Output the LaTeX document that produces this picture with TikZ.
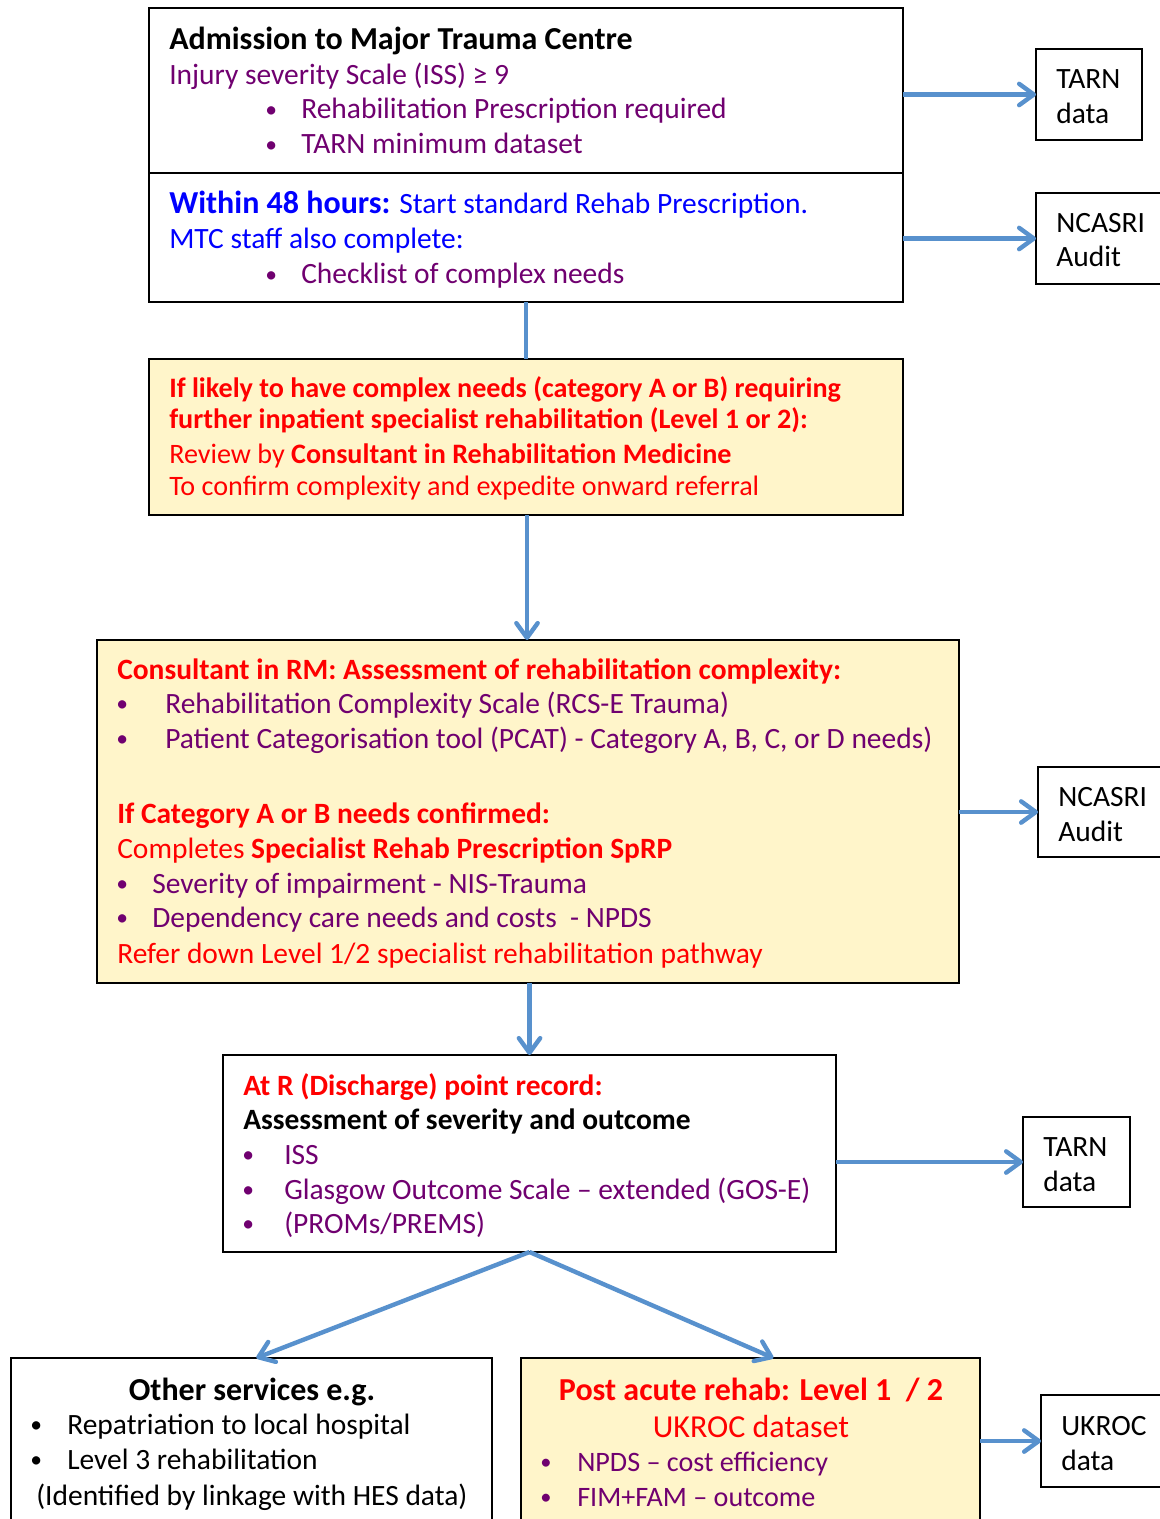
\documentclass[tikz,border=0pt]{standalone}
\usepackage{fontspec}
\setmainfont{Carlito}
\usetikzlibrary{arrows.meta,calc}
\definecolor{ptxt}{RGB}{112,0,112}
\definecolor{abl}{RGB}{88,145,205}
\definecolor{yfill}{RGB}{255,245,202}
\definecolor{rtxt}{RGB}{255,0,0}
\definecolor{btxt}{RGB}{0,0,255}
\newcommand\bul{\raisebox{0.05em}{\scalebox{0.8}{•}}}
\begin{document}
\begin{tikzpicture}[x=0.75pt,y=-0.75pt,
  box/.style={draw=black, line width=1.6pt, anchor=north west, inner sep=0pt, outer sep=0pt},
  yel/.style={box, fill=yfill},
  ln/.style={anchor=base west, inner sep=0pt, font=\fontsize{22.1}{26}\selectfont},
  lns/.style={anchor=base west, inner sep=0pt, font=\fontsize{21.1}{26}\selectfont},
  lnh/.style={anchor=base west, inner sep=0pt, font=\fontsize{24}{28}\selectfont},
  lc/.style={anchor=base, inner sep=0pt, font=\fontsize{24}{28}\selectfont},
  flow/.style={draw=abl, line width=3.3pt, -{Straight Barb[length=11pt,width=16pt,line cap=round,line join=round]}},
  plain/.style={draw=abl, line width=3.3pt},
]
\useasboundingbox (0,0) rectangle (1159,1519);
\fill[white] (0,0) rectangle (1159,1519);

% ---------- boxes ----------
\node[box, minimum width={754*0.75pt}, minimum height={165*0.75pt}] (b1) at (149,8) {};
\node[box, minimum width={754*0.75pt}, minimum height={129*0.75pt}] (b2) at (149,173) {};
\node[yel, minimum width={754*0.75pt}, minimum height={156*0.75pt}] (b3) at (149,359) {};
\node[yel, minimum width={862*0.75pt}, minimum height={343*0.75pt}] (b4) at (97,640) {};
\node[box, minimum width={613*0.75pt}, minimum height={197*0.75pt}] (b5) at (223,1055) {};
\node[box, minimum width={481*0.75pt}, minimum height={175*0.75pt}] (b6) at (11,1358) {};
\node[yel, minimum width={459*0.75pt}, minimum height={175*0.75pt}] (b7) at (521,1358) {};

\node[box, minimum width={106*0.75pt}, minimum height={91*0.75pt}] (t1) at (1036,49) {};
\node[box, minimum width={135*0.75pt}, minimum height={91*0.75pt}] (n1) at (1036,193) {};
\node[box, minimum width={135*0.75pt}, minimum height={90*0.75pt}] (n2) at (1038,767) {};
\node[box, minimum width={107*0.75pt}, minimum height={90*0.75pt}] (t3) at (1023,1117) {};
\node[box, minimum width={135*0.75pt}, minimum height={92*0.75pt}] (u1) at (1041,1395) {};

% ---------- connectors ----------
\draw[flow] (t1.west -| b1.east) -- (t1.west);
\draw[flow] (n1.west -| b2.east) -- (n1.west);
\draw[plain] (b2.south -| 526,0) -- (b3.north -| 526,0);
\draw[flow] (b3.south -| 527,0) -- (b4.north -| 527,0);
\draw[flow] (n2.west -| b4.east) -- (n2.west);
\draw[flow] (b5.north |- b4.south) -- (b5.north);
\draw[flow] (t3.west -| b5.east) -- (t3.west);
\coordinate (c6) at ($(b6.north west)!0.51!(b6.north east)$);
\coordinate (c7) at ($(b7.north west)!0.55!(b7.north east)$);
\draw[flow] (b5.south) -- (c6);
\draw[flow] (b5.south) -- (c7);
\draw[flow] (u1.west -| b7.east) -- (u1.west);

% ---------- box 1 ----------
\node[lnh] (a1) at (169,50) {\bfseries Admission to Major Trauma Centre};
\node[ln, text=ptxt] (a2) at (169,85) {Injury severity Scale (ISS) ≥ 9};
\node[ln, text=ptxt] (a3b) at (265,119) {\bul};
\node[ln, text=ptxt] (a3) at (301,119) {Rehabilitation Prescription required};
\node[ln, text=ptxt] (a4b) at (265,154) {\bul};
\node[ln, text=ptxt] (a4) at (301,154) {TARN minimum dataset};

% ---------- box 2 ----------
\node[ln, text=btxt] (w1) at (169,214) {{\fontsize{24}{28}\selectfont\bfseries Within 48 hours:} Start standard Rehab Prescription.};
\node[ln, text=btxt] (w2) at (169,249) {MTC staff also complete:};
\node[ln, text=ptxt] (w3b) at (265,284) {\bul};
\node[ln, text=ptxt] (w3) at (301,284) {Checklist of complex needs};

% ---------- box 3 ----------
\node[lns, text=rtxt] (c1) at (169,397) {\bfseries If likely to have complex needs (category A or B) requiring};
\node[lns, text=rtxt] (c2) at (169,428) {\bfseries further inpatient specialist rehabilitation (Level 1 or 2):};
\node[lns, text=rtxt] (c3) at (169,463) {Review by \textbf{Consultant in Rehabilitation Medicine}};
\node[lns, text=rtxt] (c4) at (169,495) {To confirm complexity and expedite onward referral};

% ---------- box 4 ----------
\node[ln, text=rtxt] (d1) at (117,679) {\bfseries Consultant in RM: Assessment of rehabilitation complexity:};
\node[ln, text=ptxt] (d2b) at (116,713) {\bul};
\node[ln, text=ptxt] (d2) at (165,713) {Rehabilitation Complexity Scale (RCS-E Trauma)};
\node[ln, text=ptxt] (d3b) at (116,748) {\bul};
\node[ln, text=ptxt] (d3) at (165,748) {Patient Categorisation tool (PCAT) - Category A, B, C, or D needs)};
\node[ln, text=rtxt] (d4) at (117,823) {\bfseries If Category A or B needs confirmed:};
\node[ln, text=rtxt] (d5) at (117,858) {Completes \textbf{Specialist Rehab Prescription SpRP}};
\node[ln, text=ptxt] (d6b) at (116,893) {\bul};
\node[ln, text=ptxt] (d6) at (152,893) {Severity of impairment - NIS-Trauma};
\node[ln, text=ptxt] (d7b) at (116,927) {\bul};
\node[ln, text=ptxt] (d7) at (152,927) {Dependency care needs and costs \ - NPDS};
\node[ln, text=rtxt] (d8) at (117,963) {Refer down Level 1/2 specialist rehabilitation pathway};

% ---------- box 5 ----------
\node[ln, text=rtxt] (e1) at (243,1095) {\bfseries At R (Discharge) point record:};
\node[ln] (e2) at (243,1129) {\bfseries Assessment of severity and outcome};
\node[ln, text=ptxt] (e3b) at (242,1164) {\bul};
\node[ln, text=ptxt] (e3) at (284,1164) {ISS};
\node[ln, text=ptxt] (e4b) at (242,1199) {\bul};
\node[ln, text=ptxt] (e4) at (284,1199) {Glasgow Outcome Scale – extended (GOS-E)};
\node[ln, text=ptxt] (e5b) at (242,1233) {\bul};
\node[ln, text=ptxt] (e5) at (284,1233) {(PROMs/PREMS)};

% ---------- box 6 ----------
\node[lc] (f1) at (252,1400) {\bfseries Other services e.g.};
\node[ln] (f2b) at (30,1434) {\bul};
\node[ln] (f2) at (67,1434) {Repatriation to local hospital};
\node[ln] (f3b) at (30,1469) {\bul};
\node[ln] (f3) at (67,1469) {Level 3 rehabilitation};
\node[ln] (f4) at (36,1505) {(Identified by linkage with HES data)};

% ---------- box 7 ----------
\node[lc, text=rtxt] (g1) at (751,1400) {\bfseries Post acute rehab: Level 1 \ / 2};
\node[lc, text=rtxt] (g2) at (751,1437) {UKROC dataset};
\node[lns, text=ptxt] (g3b) at (540,1471) {\bul};
\node[lns, text=ptxt] (g3) at (577,1471) {NPDS – cost efficiency};
\node[lns, text=ptxt] (g4b) at (540,1506) {\bul};
\node[lns, text=ptxt] (g4) at (577,1506) {FIM+FAM – outcome};

% ---------- side boxes ----------
\node[ln] (t1a) at (1056,89) {TARN};
\node[ln] (t1b) at (1056,124) {data};
\node[ln] (n1a) at (1056,233) {NCASRI};
\node[ln] (n1b) at (1056,267) {Audit};
\node[ln] (n2a) at (1058,806) {NCASRI};
\node[ln] (n2b) at (1058,841) {Audit};
\node[ln] (t3a) at (1043,1156) {TARN};
\node[ln] (t3b) at (1043,1191) {data};
\node[ln] (u1a) at (1061,1435) {UKROC};
\node[ln] (u1b) at (1061,1470) {data};
\end{tikzpicture}
\end{document}
